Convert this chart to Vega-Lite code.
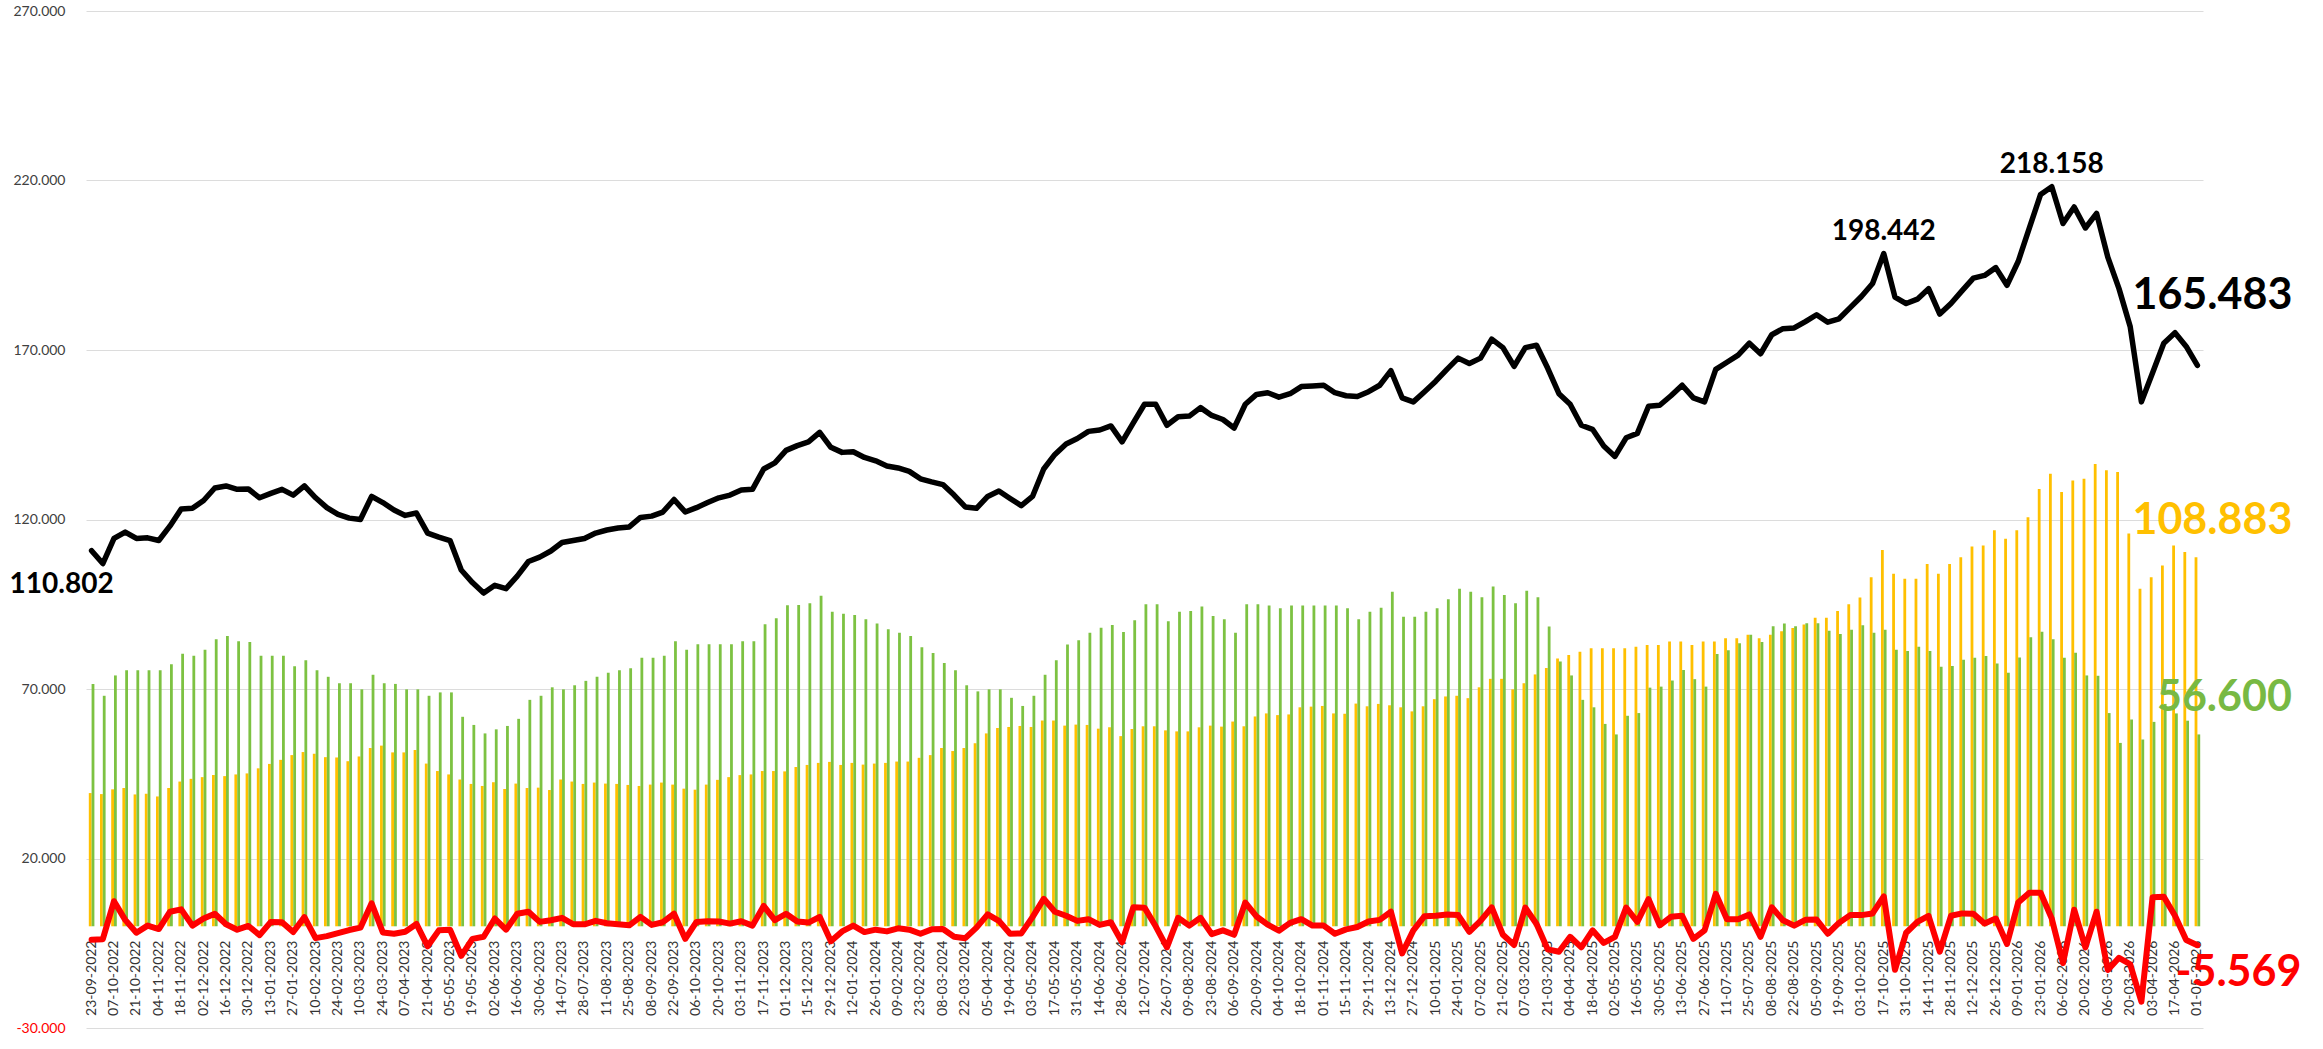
{
"$schema":"https://vega.github.io/schema/vega-lite/v6.json",
"width":2117,"height":1017,
"autosize":{"type":"none"},
"padding":{"left":86,"top":11,"right":120,"bottom":21},
"background":"#ffffff",
"config":{"view":{"stroke":null},"locale":{"number":{"decimal":",","thousands":".","grouping":[3],"currency":["€",""],"minus":"-"}},"font":"Lato"},
"data":{"values":[
{"d":"23-09-2022","t":110802,"g":71500,"o":39302,"c":-4000},
{"d":"30-09-2022","t":107000,"g":68000,"o":39000,"c":-3802},
{"d":"07-10-2022","t":114400,"g":74000,"o":40400,"c":7400},
{"d":"14-10-2022","t":116300,"g":75500,"o":40800,"c":1900},
{"d":"21-10-2022","t":114400,"g":75500,"o":38900,"c":-1900},
{"d":"28-10-2022","t":114600,"g":75500,"o":39100,"c":200},
{"d":"04-11-2022","t":113800,"g":75500,"o":38300,"c":-800},
{"d":"11-11-2022","t":118100,"g":77300,"o":40800,"c":4300},
{"d":"18-11-2022","t":123100,"g":80400,"o":42700,"c":5000},
{"d":"25-11-2022","t":123300,"g":79800,"o":43500,"c":200},
{"d":"02-12-2022","t":125600,"g":81600,"o":44000,"c":2300},
{"d":"09-12-2022","t":129300,"g":84700,"o":44600,"c":3700},
{"d":"16-12-2022","t":129900,"g":85600,"o":44300,"c":600},
{"d":"23-12-2022","t":128900,"g":84100,"o":44800,"c":-1000},
{"d":"30-12-2022","t":129000,"g":83900,"o":45100,"c":100},
{"d":"06-01-2023","t":126400,"g":79800,"o":46600,"c":-2600},
{"d":"13-01-2023","t":127700,"g":79800,"o":47900,"c":1300},
{"d":"20-01-2023","t":128900,"g":79800,"o":49100,"c":1200},
{"d":"27-01-2023","t":127200,"g":76700,"o":50500,"c":-1700},
{"d":"03-02-2023","t":129900,"g":78500,"o":51400,"c":2700},
{"d":"10-02-2023","t":126400,"g":75500,"o":50900,"c":-3500},
{"d":"17-02-2023","t":123500,"g":73600,"o":49900,"c":-2900},
{"d":"24-02-2023","t":121500,"g":71700,"o":49800,"c":-2000},
{"d":"03-03-2023","t":120400,"g":71700,"o":48700,"c":-1100},
{"d":"10-03-2023","t":120000,"g":69900,"o":50100,"c":-400},
{"d":"17-03-2023","t":126800,"g":74200,"o":52600,"c":6800},
{"d":"24-03-2023","t":125000,"g":71700,"o":53300,"c":-1800},
{"d":"31-03-2023","t":122800,"g":71500,"o":51300,"c":-2200},
{"d":"07-04-2023","t":121200,"g":69900,"o":51300,"c":-1600},
{"d":"14-04-2023","t":121900,"g":69900,"o":52000,"c":700},
{"d":"21-04-2023","t":116000,"g":68000,"o":48000,"c":-5900},
{"d":"28-04-2023","t":114800,"g":69000,"o":45800,"c":-1200},
{"d":"05-05-2023","t":113800,"g":69000,"o":44800,"c":-1000},
{"d":"12-05-2023","t":105100,"g":61800,"o":43300,"c":-8700},
{"d":"19-05-2023","t":101400,"g":59400,"o":42000,"c":-3700},
{"d":"26-05-2023","t":98300,"g":56900,"o":41400,"c":-3100},
{"d":"02-06-2023","t":100600,"g":58100,"o":42500,"c":2300},
{"d":"09-06-2023","t":99600,"g":59100,"o":40500,"c":-1000},
{"d":"16-06-2023","t":103300,"g":61200,"o":42100,"c":3700},
{"d":"23-06-2023","t":107600,"g":66800,"o":40800,"c":4300},
{"d":"30-06-2023","t":108900,"g":68000,"o":40900,"c":1300},
{"d":"07-07-2023","t":110700,"g":70500,"o":40200,"c":1800},
{"d":"14-07-2023","t":113200,"g":69900,"o":43300,"c":2500},
{"d":"21-07-2023","t":113800,"g":71100,"o":42700,"c":600},
{"d":"28-07-2023","t":114400,"g":72400,"o":42000,"c":600},
{"d":"04-08-2023","t":116000,"g":73600,"o":42400,"c":1600},
{"d":"11-08-2023","t":116900,"g":74800,"o":42100,"c":900},
{"d":"18-08-2023","t":117500,"g":75500,"o":42000,"c":600},
{"d":"25-08-2023","t":117800,"g":76100,"o":41700,"c":300},
{"d":"01-09-2023","t":120600,"g":79200,"o":41400,"c":2800},
{"d":"08-09-2023","t":121000,"g":79200,"o":41800,"c":400},
{"d":"15-09-2023","t":122200,"g":79800,"o":42400,"c":1200},
{"d":"22-09-2023","t":125900,"g":84100,"o":41800,"c":3700},
{"d":"29-09-2023","t":122200,"g":81600,"o":40600,"c":-3700},
{"d":"06-10-2023","t":123500,"g":83200,"o":40300,"c":1300},
{"d":"13-10-2023","t":125000,"g":83200,"o":41800,"c":1500},
{"d":"20-10-2023","t":126400,"g":83200,"o":43200,"c":1400},
{"d":"27-10-2023","t":127200,"g":83200,"o":44000,"c":800},
{"d":"03-11-2023","t":128700,"g":84100,"o":44600,"c":1500},
{"d":"10-11-2023","t":128900,"g":84100,"o":44800,"c":200},
{"d":"17-11-2023","t":134900,"g":89100,"o":45800,"c":6000},
{"d":"24-11-2023","t":136700,"g":90900,"o":45800,"c":1800},
{"d":"01-12-2023","t":140400,"g":94700,"o":45700,"c":3700},
{"d":"08-12-2023","t":141800,"g":94800,"o":47000,"c":1400},
{"d":"15-12-2023","t":142900,"g":95300,"o":47600,"c":1100},
{"d":"22-12-2023","t":145700,"g":97500,"o":48200,"c":2800},
{"d":"29-12-2023","t":141300,"g":92800,"o":48500,"c":-4400},
{"d":"05-01-2024","t":139800,"g":92200,"o":47600,"c":-1500},
{"d":"12-01-2024","t":140000,"g":91800,"o":48200,"c":200},
{"d":"19-01-2024","t":138300,"g":90600,"o":47700,"c":-1700},
{"d":"26-01-2024","t":137300,"g":89300,"o":48000,"c":-1000},
{"d":"02-02-2024","t":135800,"g":87600,"o":48200,"c":-1500},
{"d":"09-02-2024","t":135200,"g":86600,"o":48600,"c":-600},
{"d":"16-02-2024","t":134200,"g":85600,"o":48600,"c":-1000},
{"d":"23-02-2024","t":132000,"g":82300,"o":49700,"c":-2200},
{"d":"01-03-2024","t":131100,"g":80600,"o":50500,"c":-900},
{"d":"08-03-2024","t":130300,"g":77700,"o":52600,"c":-800},
{"d":"15-03-2024","t":127200,"g":75500,"o":51700,"c":-3100},
{"d":"22-03-2024","t":123700,"g":71100,"o":52600,"c":-3500},
{"d":"29-03-2024","t":123300,"g":69300,"o":54000,"c":-400},
{"d":"05-04-2024","t":126800,"g":69900,"o":56900,"c":3500},
{"d":"12-04-2024","t":128400,"g":69900,"o":58500,"c":1600},
{"d":"19-04-2024","t":126200,"g":67400,"o":58800,"c":-2200},
{"d":"26-04-2024","t":124100,"g":65000,"o":59100,"c":-2100},
{"d":"03-05-2024","t":126800,"g":68000,"o":58800,"c":2700},
{"d":"10-05-2024","t":134900,"g":74200,"o":60700,"c":8100},
{"d":"17-05-2024","t":139200,"g":78500,"o":60700,"c":4300},
{"d":"24-05-2024","t":142300,"g":83100,"o":59200,"c":3100},
{"d":"31-05-2024","t":143900,"g":84400,"o":59500,"c":1600},
{"d":"07-06-2024","t":146000,"g":86600,"o":59400,"c":2100},
{"d":"14-06-2024","t":146400,"g":88100,"o":58300,"c":400},
{"d":"21-06-2024","t":147600,"g":88900,"o":58700,"c":1200},
{"d":"28-06-2024","t":142900,"g":86800,"o":56100,"c":-4700},
{"d":"05-07-2024","t":148500,"g":90300,"o":58200,"c":5600},
{"d":"12-07-2024","t":154000,"g":95000,"o":59000,"c":5500},
{"d":"19-07-2024","t":154000,"g":95000,"o":59000,"c":0},
{"d":"26-07-2024","t":147800,"g":90000,"o":57800,"c":-6200},
{"d":"02-08-2024","t":150300,"g":92800,"o":57500,"c":2500},
{"d":"09-08-2024","t":150500,"g":93000,"o":57500,"c":200},
{"d":"16-08-2024","t":153000,"g":94300,"o":58700,"c":2500},
{"d":"23-08-2024","t":150700,"g":91500,"o":59200,"c":-2300},
{"d":"30-08-2024","t":149500,"g":90600,"o":58900,"c":-1200},
{"d":"06-09-2024","t":147000,"g":86600,"o":60400,"c":-2500},
{"d":"13-09-2024","t":154000,"g":95000,"o":59000,"c":7000},
{"d":"20-09-2024","t":156900,"g":95000,"o":61900,"c":2900},
{"d":"27-09-2024","t":157400,"g":94600,"o":62800,"c":500},
{"d":"04-10-2024","t":156100,"g":93800,"o":62300,"c":-1300},
{"d":"11-10-2024","t":157100,"g":94600,"o":62500,"c":1000},
{"d":"18-10-2024","t":159200,"g":94600,"o":64600,"c":2100},
{"d":"25-10-2024","t":159400,"g":94600,"o":64800,"c":200},
{"d":"01-11-2024","t":159600,"g":94600,"o":65000,"c":200},
{"d":"08-11-2024","t":157400,"g":94600,"o":62800,"c":-2200},
{"d":"15-11-2024","t":156500,"g":93800,"o":62700,"c":-900},
{"d":"22-11-2024","t":156300,"g":90600,"o":65700,"c":-200},
{"d":"29-11-2024","t":157700,"g":92800,"o":64900,"c":1400},
{"d":"06-12-2024","t":159600,"g":94000,"o":65600,"c":1900},
{"d":"13-12-2024","t":163900,"g":98700,"o":65200,"c":4300},
{"d":"20-12-2024","t":155900,"g":91300,"o":64600,"c":-8000},
{"d":"27-12-2024","t":154700,"g":91300,"o":63400,"c":-1200},
{"d":"03-01-2025","t":157700,"g":92800,"o":64900,"c":3000},
{"d":"10-01-2025","t":160800,"g":93800,"o":67000,"c":3100},
{"d":"17-01-2025","t":164300,"g":96500,"o":67800,"c":3500},
{"d":"24-01-2025","t":167600,"g":99600,"o":68000,"c":3300},
{"d":"31-01-2025","t":166000,"g":98700,"o":67300,"c":-1600},
{"d":"07-02-2025","t":167600,"g":97100,"o":70500,"c":1600},
{"d":"14-02-2025","t":173200,"g":100200,"o":73000,"c":5600},
{"d":"21-02-2025","t":170700,"g":97700,"o":73000,"c":-2500},
{"d":"28-02-2025","t":165200,"g":95300,"o":69900,"c":-5500},
{"d":"07-03-2025","t":170700,"g":99000,"o":71700,"c":5500},
{"d":"14-03-2025","t":171400,"g":97100,"o":74300,"c":700},
{"d":"21-03-2025","t":164600,"g":88400,"o":76200,"c":-6800},
{"d":"28-03-2025","t":157100,"g":78100,"o":79000,"c":-7500},
{"d":"04-04-2025","t":154000,"g":74000,"o":80000,"c":-3100},
{"d":"11-04-2025","t":147800,"g":66800,"o":81000,"c":-6200},
{"d":"18-04-2025","t":146600,"g":64600,"o":82000,"c":-1200},
{"d":"25-04-2025","t":141700,"g":59700,"o":82000,"c":-4900},
{"d":"02-05-2025","t":138600,"g":56600,"o":82000,"c":-3100},
{"d":"09-05-2025","t":144100,"g":62100,"o":82000,"c":5500},
{"d":"16-05-2025","t":145400,"g":62900,"o":82500,"c":1300},
{"d":"23-05-2025","t":153400,"g":70400,"o":83000,"c":8000},
{"d":"30-05-2025","t":153700,"g":70700,"o":83000,"c":300},
{"d":"06-06-2025","t":156500,"g":72500,"o":84000,"c":2800},
{"d":"13-06-2025","t":159600,"g":75600,"o":84000,"c":3100},
{"d":"20-06-2025","t":155900,"g":72900,"o":83000,"c":-3700},
{"d":"27-06-2025","t":154700,"g":70700,"o":84000,"c":-1200},
{"d":"04-07-2025","t":164300,"g":80300,"o":84000,"c":9600},
{"d":"11-07-2025","t":166400,"g":81400,"o":85000,"c":2100},
{"d":"18-07-2025","t":168500,"g":83500,"o":85000,"c":2100},
{"d":"25-07-2025","t":172000,"g":86000,"o":86000,"c":3500},
{"d":"01-08-2025","t":168900,"g":83900,"o":85000,"c":-3100},
{"d":"08-08-2025","t":174500,"g":88500,"o":86000,"c":5600},
{"d":"15-08-2025","t":176300,"g":89300,"o":87000,"c":1800},
{"d":"22-08-2025","t":176500,"g":88500,"o":88000,"c":200},
{"d":"29-08-2025","t":178400,"g":89400,"o":89000,"c":1900},
{"d":"05-09-2025","t":180400,"g":89400,"o":91000,"c":2000},
{"d":"12-09-2025","t":178200,"g":87200,"o":91000,"c":-2200},
{"d":"19-09-2025","t":179200,"g":86200,"o":93000,"c":1000},
{"d":"26-09-2025","t":182500,"g":87500,"o":95000,"c":3300},
{"d":"03-10-2025","t":185800,"g":88800,"o":97000,"c":3300},
{"d":"10-10-2025","t":189600,"g":86600,"o":103000,"c":3800},
{"d":"17-10-2025","t":198442,"g":87442,"o":111000,"c":8842},
{"d":"24-10-2025","t":185600,"g":81600,"o":104000,"c":-12842},
{"d":"31-10-2025","t":183700,"g":81200,"o":102500,"c":-1900},
{"d":"07-11-2025","t":185000,"g":82500,"o":102500,"c":1300},
{"d":"14-11-2025","t":188100,"g":81200,"o":106900,"c":3100},
{"d":"21-11-2025","t":180600,"g":76600,"o":104000,"c":-7500},
{"d":"28-11-2025","t":183700,"g":76800,"o":106900,"c":3100},
{"d":"05-12-2025","t":187500,"g":78600,"o":108900,"c":3800},
{"d":"12-12-2025","t":191200,"g":79200,"o":112000,"c":3700},
{"d":"19-12-2025","t":192000,"g":79700,"o":112300,"c":800},
{"d":"26-12-2025","t":194300,"g":77500,"o":116800,"c":2300},
{"d":"02-01-2026","t":189100,"g":74800,"o":114300,"c":-5200},
{"d":"09-01-2026","t":196100,"g":79300,"o":116800,"c":7000},
{"d":"16-01-2026","t":206000,"g":85300,"o":120700,"c":9900},
{"d":"23-01-2026","t":215900,"g":86900,"o":129000,"c":9900},
{"d":"30-01-2026","t":218158,"g":84658,"o":133500,"c":2258},
{"d":"06-02-2026","t":207300,"g":79200,"o":128100,"c":-10858},
{"d":"13-02-2026","t":212200,"g":80700,"o":131500,"c":4900},
{"d":"20-02-2026","t":206000,"g":74000,"o":132000,"c":-6200},
{"d":"27-02-2026","t":210300,"g":73900,"o":136400,"c":4300},
{"d":"06-03-2026","t":197400,"g":62900,"o":134500,"c":-12900},
{"d":"13-03-2026","t":188100,"g":54100,"o":134000,"c":-9300},
{"d":"20-03-2026","t":176900,"g":61000,"o":115900,"c":-11200},
{"d":"27-03-2026","t":154700,"g":55100,"o":99600,"c":-22200},
{"d":"03-04-2026","t":163300,"g":60300,"o":103000,"c":8600},
{"d":"10-04-2026","t":172000,"g":65600,"o":106400,"c":8700},
{"d":"17-04-2026","t":175100,"g":62800,"o":112300,"c":3100},
{"d":"24-04-2026","t":171052,"g":60652,"o":110400,"c":-4048},
{"d":"01-05-2026","t":165483,"g":56600,"o":108883,"c":-5569}
]},
"encoding":{
"x":{"field":"d","type":"ordinal","sort":null,"title":null,
"scale":{"type":"band","paddingInner":0,"paddingOuter":0},
"axis":{"orient":"bottom","offset":-102,"labelAngle":270,"labelPadding":14,"labelFont":"Lato","labelFontSize":14,"labelColor":"#333333","labelOverlap":false,"domain":false,"ticks":false,"grid":false,
"values":["23-09-2022","07-10-2022","21-10-2022","04-11-2022","18-11-2022","02-12-2022","16-12-2022","30-12-2022","13-01-2023","27-01-2023","10-02-2023","24-02-2023","10-03-2023","24-03-2023","07-04-2023","21-04-2023","05-05-2023","19-05-2023","02-06-2023","16-06-2023","30-06-2023","14-07-2023","28-07-2023","11-08-2023","25-08-2023","08-09-2023","22-09-2023","06-10-2023","20-10-2023","03-11-2023","17-11-2023","01-12-2023","15-12-2023","29-12-2023","12-01-2024","26-01-2024","09-02-2024","23-02-2024","08-03-2024","22-03-2024","05-04-2024","19-04-2024","03-05-2024","17-05-2024","31-05-2024","14-06-2024","28-06-2024","12-07-2024","26-07-2024","09-08-2024","23-08-2024","06-09-2024","20-09-2024","04-10-2024","18-10-2024","01-11-2024","15-11-2024","29-11-2024","13-12-2024","27-12-2024","10-01-2025","24-01-2025","07-02-2025","21-02-2025","07-03-2025","21-03-2025","04-04-2025","18-04-2025","02-05-2025","16-05-2025","30-05-2025","13-06-2025","27-06-2025","11-07-2025","25-07-2025","08-08-2025","22-08-2025","05-09-2025","19-09-2025","03-10-2025","17-10-2025","31-10-2025","14-11-2025","28-11-2025","12-12-2025","26-12-2025","09-01-2026","23-01-2026","06-02-2026","20-02-2026","06-03-2026","20-03-2026","03-04-2026","17-04-2026","01-05-2026"]}}
},
"layer":[
{"mark":{"type":"bar","width":2.8,"xOffset":-1.4,"color":"#FFC000"},
 "encoding":{"y":{"field":"o","type":"quantitative","title":null,"scale":{"domain":[-30000,270000],"nice":false,"zero":false},
 "axis":{"values":[-30000,20000,70000,120000,170000,220000,270000],"format":",.0f","grid":true,"gridColor":"#dcdcdc","gridWidth":1,"domain":false,"ticks":false,"labelPadding":21,"labelFont":"Lato","labelFontSize":14,
 "labelColor":{"condition":{"test":"datum.value < 0","value":"#FF0000"},"value":"#404040"}}}}},
{"mark":{"type":"bar","width":2.8,"xOffset":1.4,"color":"#7DC242"},
 "encoding":{"y":{"field":"g","type":"quantitative","title":null,"scale":{"domain":[-30000,270000],"nice":false,"zero":false}}}},
{"mark":{"type":"line","color":"#FF0000","strokeWidth":6,"strokeJoin":"round","strokeCap":"round"},
 "encoding":{"y":{"field":"c","type":"quantitative","title":null,"scale":{"domain":[-30000,270000],"nice":false,"zero":false}}}},
{"mark":{"type":"line","color":"#000000","strokeWidth":5.5,"strokeJoin":"round","strokeCap":"round"},
 "encoding":{"y":{"field":"t","type":"quantitative","title":null,"scale":{"domain":[-30000,270000],"nice":false,"zero":false}}}},
{"mark":{"type":"text","font":"Lato","fontWeight":"bold","fontSize":28,"align":"center","baseline":"middle","dx":-30,"dy":34,"color":"#000000"},
 "encoding":{"y":{"field":"t","type":"quantitative","title":null,"scale":{"domain":[-30000,270000],"nice":false,"zero":false}},
 "text":{"condition":{"test":"datum.d === '23-09-2022'","field":"t","type":"quantitative","format":",.0f"},"value":""}}},
{"mark":{"type":"text","font":"Lato","fontWeight":"bold","fontSize":28,"align":"center","baseline":"middle","dx":0,"dy":-22,"color":"#000000"},
 "encoding":{"y":{"field":"t","type":"quantitative","title":null,"scale":{"domain":[-30000,270000],"nice":false,"zero":false}},
 "text":{"condition":{"test":"datum.d === '17-10-2025' || datum.d === '30-01-2026'","field":"t","type":"quantitative","format":",.0f"},"value":""}}},
{"mark":{"type":"text","font":"Lato","fontWeight":"bold","fontSize":43,"align":"center","baseline":"middle","dx":15,"dy":-69,"color":"#000000"},
 "encoding":{"y":{"field":"t","type":"quantitative","title":null,"scale":{"domain":[-30000,270000],"nice":false,"zero":false}},
 "text":{"condition":{"test":"datum.d === '01-05-2026'","field":"t","type":"quantitative","format":",.0f"},"value":""}}},
{"mark":{"type":"text","font":"Lato","fontWeight":"bold","fontSize":43,"align":"center","baseline":"middle","dx":15,"dy":-36,"color":"#FFC000"},
 "encoding":{"y":{"field":"o","type":"quantitative","title":null,"scale":{"domain":[-30000,270000],"nice":false,"zero":false}},
 "text":{"condition":{"test":"datum.d === '01-05-2026'","field":"o","type":"quantitative","format":",.0f"},"value":""}}},
{"mark":{"type":"text","font":"Lato","fontWeight":"bold","fontSize":43,"align":"center","baseline":"middle","dx":27,"dy":-36,"color":"#78B943"},
 "encoding":{"y":{"field":"g","type":"quantitative","title":null,"scale":{"domain":[-30000,270000],"nice":false,"zero":false}},
 "text":{"condition":{"test":"datum.d === '01-05-2026'","field":"g","type":"quantitative","format":",.0f"},"value":""}}},
{"mark":{"type":"text","font":"Lato","fontWeight":"bold","fontSize":43,"align":"center","baseline":"middle","dx":41,"dy":28,"color":"#FF0000"},
 "encoding":{"y":{"field":"c","type":"quantitative","title":null,"scale":{"domain":[-30000,270000],"nice":false,"zero":false}},
 "text":{"condition":{"test":"datum.d === '01-05-2026'","field":"c","type":"quantitative","format":",.0f"},"value":""}}}
]
}
